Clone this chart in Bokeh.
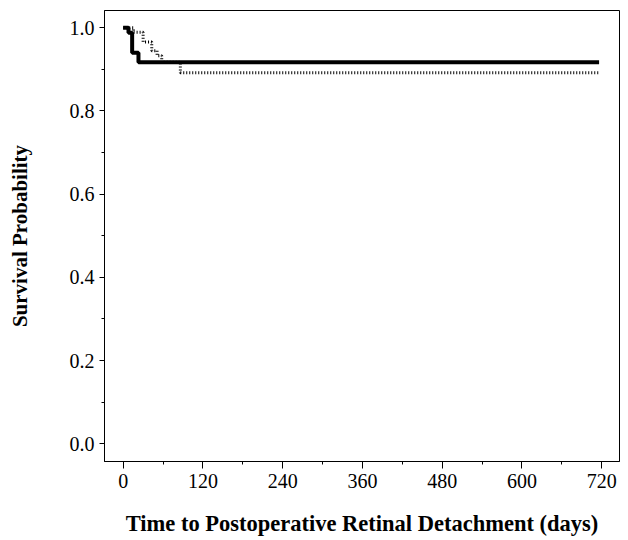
from bokeh.plotting import figure
from bokeh.models import Range1d, FixedTicker
from bokeh.embed import file_html
from bokeh.resources import INLINE

# Kaplan-Meier curves
solid_days = [0, 8, 13.5, 23, 716]
solid_surv = [1.0, 0.988, 0.94, 0.917, 0.917]
dotted_days = [0, 15.5, 30, 43, 51, 58, 86, 716]
dotted_surv = [1.0, 0.989, 0.966, 0.945, 0.933, 0.917, 0.892, 0.892]

x_ticks = [0, 120, 240, 360, 480, 600, 720]
x_minor = [60, 180, 300, 420, 540, 660]
y_ticks = [0.0, 0.2, 0.4, 0.6, 0.8, 1.0]
y_minor = [0.1, 0.3, 0.5, 0.7, 0.9]
x_title = "Time to Postoperative Retinal Detachment (days)"
y_title = "Survival Probability"

p = figure(width=622, height=538, output_backend="svg", toolbar_location=None,
           x_range=Range1d(-28.1, 746.7), y_range=Range1d(-0.0427, 1.0415),
           min_border_left=104, min_border_right=3, min_border_top=10, min_border_bottom=76)
p.background_fill_color = "white"
p.border_fill_color = "white"
p.outline_line_color = "black"
p.outline_line_width = 1
p.grid.visible = False

p.step(solid_days, solid_surv, mode="after", line_color="black", line_width=4)
p.step(dotted_days, dotted_surv, mode="after", line_color="black", line_width=3, line_dash="1 2")

font = "Liberation Serif"
xa = p.xaxis[0]
xa.ticker = FixedTicker(ticks=x_ticks, minor_ticks=x_minor)
xa.major_label_overrides = {t: str(t) for t in x_ticks}
ya = p.yaxis[0]
ya.ticker = FixedTicker(ticks=y_ticks, minor_ticks=y_minor)
ya.major_label_overrides = {t: f"{t:.1f}" for t in y_ticks}

for ax in (xa, ya):
    ax.axis_line_color = "black"
    ax.major_tick_line_color = "black"
    ax.minor_tick_line_color = "black"
    ax.major_tick_in = 0
    ax.minor_tick_in = 0
    ax.major_label_text_font = font
    ax.major_label_text_font_size = "20px"
    ax.major_label_text_color = "black"
    ax.axis_label_text_font = font
    ax.axis_label_text_font_style = "bold"
    ax.axis_label_text_color = "black"

xa.major_tick_out = 7
xa.minor_tick_out = 3
xa.major_label_standoff = 5
xa.axis_label = x_title
xa.axis_label_text_font_size = "22.5px"
xa.axis_label_standoff = 20

ya.major_tick_out = 5
ya.minor_tick_out = 3
ya.major_label_standoff = 5
ya.axis_label = y_title
ya.axis_label_text_font_size = "21px"
ya.axis_label_standoff = 35

open("out.html", "w").write(file_html(p, INLINE))
